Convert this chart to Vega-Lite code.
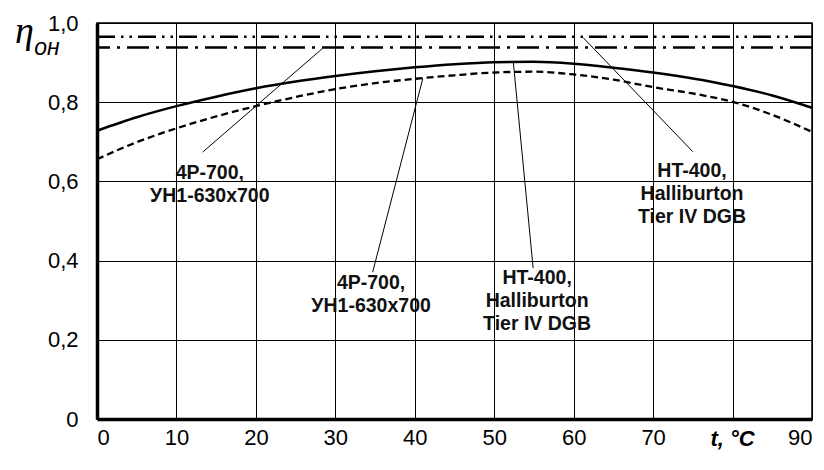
{
  "$schema": "https://vega.github.io/schema/vega-lite/v6.json",
  "width": 715,
  "height": 396,
  "autosize": {"type": "none"},
  "padding": {"left": 97, "top": 23, "right": 12, "bottom": 51},
  "background": "white",
  "config": {
    "view": {"stroke": "black", "strokeWidth": 1.5},
    "axis": {
      "grid": true, "gridColor": "black", "gridOpacity": 1, "gridWidth": 1,
      "domainColor": "black", "domainWidth": 3.5, "ticks": false,
      "labelFont": "Liberation Sans", "labelFontSize": 22, "labelColor": "black",
      "titleColor": "black"
    }
  },
  "datasets": {
    "curves": [
      {"t": 0, "eta": 0.728, "s": "solid"}, {"t": 5, "eta": 0.762, "s": "solid"},
      {"t": 10, "eta": 0.790, "s": "solid"}, {"t": 15, "eta": 0.814, "s": "solid"},
      {"t": 20, "eta": 0.835, "s": "solid"}, {"t": 25, "eta": 0.852, "s": "solid"},
      {"t": 30, "eta": 0.866, "s": "solid"}, {"t": 35, "eta": 0.878, "s": "solid"},
      {"t": 40, "eta": 0.888, "s": "solid"}, {"t": 45, "eta": 0.896, "s": "solid"},
      {"t": 50, "eta": 0.901, "s": "solid"}, {"t": 55, "eta": 0.902, "s": "solid"},
      {"t": 60, "eta": 0.897, "s": "solid"}, {"t": 65, "eta": 0.887, "s": "solid"},
      {"t": 70, "eta": 0.875, "s": "solid"}, {"t": 75, "eta": 0.860, "s": "solid"},
      {"t": 80, "eta": 0.841, "s": "solid"}, {"t": 85, "eta": 0.817, "s": "solid"},
      {"t": 90, "eta": 0.786, "s": "solid"},
      {"t": 0, "eta": 0.656, "s": "dashed"}, {"t": 5, "eta": 0.699, "s": "dashed"},
      {"t": 10, "eta": 0.734, "s": "dashed"}, {"t": 15, "eta": 0.764, "s": "dashed"},
      {"t": 20, "eta": 0.790, "s": "dashed"}, {"t": 25, "eta": 0.813, "s": "dashed"},
      {"t": 30, "eta": 0.833, "s": "dashed"}, {"t": 35, "eta": 0.848, "s": "dashed"},
      {"t": 40, "eta": 0.859, "s": "dashed"}, {"t": 45, "eta": 0.868, "s": "dashed"},
      {"t": 50, "eta": 0.875, "s": "dashed"}, {"t": 55, "eta": 0.877, "s": "dashed"},
      {"t": 60, "eta": 0.870, "s": "dashed"}, {"t": 65, "eta": 0.857, "s": "dashed"},
      {"t": 70, "eta": 0.838, "s": "dashed"}, {"t": 75, "eta": 0.822, "s": "dashed"},
      {"t": 80, "eta": 0.801, "s": "dashed"}, {"t": 85, "eta": 0.768, "s": "dashed"},
      {"t": 90, "eta": 0.725, "s": "dashed"}
    ],
    "levels": [
      {"eta": 0.965, "s": "dashdotdot"},
      {"eta": 0.938, "s": "dashdot"}
    ],
    "leaders": [
      {"id": 1, "t": 13.3, "eta": 0.674}, {"id": 1, "t": 28.4, "eta": 0.936},
      {"id": 2, "t": 34.7, "eta": 0.371}, {"id": 2, "t": 41.0, "eta": 0.859},
      {"id": 3, "t": 54.9, "eta": 0.381}, {"id": 3, "t": 52.4, "eta": 0.902},
      {"id": 4, "t": 75.0, "eta": 0.675}, {"id": 4, "t": 61.2, "eta": 0.963}
    ],
    "labels": [
      {"label": "4P-700,\nУН1-630x700", "t": 14.2, "eta": 0.622},
      {"label": "4P-700,\nУН1-630x700", "t": 34.5, "eta": 0.344},
      {"label": "HT-400,\nHalliburton\nTier IV DGB", "t": 55.4, "eta": 0.356},
      {"label": "HT-400,\nHalliburton\nTier IV DGB", "t": 74.9, "eta": 0.627}
    ]
  },
  "layer": [
    {
      "data": {"name": "curves"},
      "transform": [{"filter": "datum.s === 'solid'"}],
      "mark": {"type": "line", "color": "black", "strokeWidth": 2.5, "interpolate": "monotone"},
      "encoding": {
        "x": {
          "field": "t", "type": "quantitative",
          "scale": {"domain": [0, 90], "nice": false},
          "axis": {
            "values": [0, 10, 20, 30, 40, 50, 60, 70, 80, 90],
            "labelExpr": "datum.value == 80 ? '' : datum.label",
            "labelPadding": 8,
            "title": "t,  °C", "titleX": 635, "titleY": 19,
            "titleAlign": "center", "titleBaseline": "middle",
            "titleFont": "Liberation Sans", "titleFontSize": 22,
            "titleFontStyle": "italic", "titleFontWeight": "bold"
          }
        },
        "y": {
          "field": "eta", "type": "quantitative",
          "scale": {"domain": [0, 1], "nice": false},
          "axis": {
            "values": [0, 0.2, 0.4, 0.6, 0.8, 1],
            "labelExpr": "datum.value == 0 ? '0' : replace(format(datum.value, '.1f'), '.', ',')",
            "labelPadding": 19,
            "title": "η", "titleAngle": 0, "titleX": -73, "titleY": 19,
            "titleAlign": "center", "titleBaseline": "alphabetic",
            "titleFont": "Liberation Serif", "titleFontSize": 38,
            "titleFontStyle": "italic", "titleFontWeight": "normal"
          }
        }
      }
    },
    {
      "data": {"name": "curves"},
      "transform": [{"filter": "datum.s === 'dashed'"}],
      "mark": {"type": "line", "color": "black", "strokeWidth": 2.3, "strokeDash": [7, 4], "interpolate": "monotone"},
      "encoding": {
        "x": {"field": "t", "type": "quantitative"},
        "y": {"field": "eta", "type": "quantitative"}
      }
    },
    {
      "data": {"name": "levels"},
      "transform": [{"filter": "datum.s === 'dashdotdot'"}],
      "mark": {"type": "rule", "color": "black", "strokeWidth": 2.5, "strokeDash": [18, 6, 2.5, 6, 2.5, 6]},
      "encoding": {"y": {"field": "eta", "type": "quantitative"}}
    },
    {
      "data": {"name": "levels"},
      "transform": [{"filter": "datum.s === 'dashdot'"}],
      "mark": {"type": "rule", "color": "black", "strokeWidth": 2.5, "strokeDash": [22, 7, 3, 7]},
      "encoding": {"y": {"field": "eta", "type": "quantitative"}}
    },
    {
      "data": {"name": "leaders"},
      "mark": {"type": "line", "color": "black", "strokeWidth": 1},
      "encoding": {
        "x": {"field": "t", "type": "quantitative"},
        "y": {"field": "eta", "type": "quantitative"},
        "detail": {"field": "id"}
      }
    },
    {
      "data": {"name": "labels"},
      "mark": {
        "type": "text", "lineBreak": "\n", "align": "center", "baseline": "middle",
        "font": "Liberation Sans", "fontSize": 19.5, "fontWeight": "bold",
        "lineHeight": 23, "color": "#111111"
      },
      "encoding": {
        "x": {"field": "t", "type": "quantitative"},
        "y": {"field": "eta", "type": "quantitative"},
        "text": {"field": "label"}
      }
    },
    {
      "data": {"values": [{"sub": "он"}]},
      "mark": {
        "type": "text", "align": "center", "baseline": "alphabetic",
        "font": "Liberation Sans", "fontSize": 23, "fontStyle": "italic", "color": "black"
      },
      "encoding": {
        "x": {"datum": -6.3, "type": "quantitative"},
        "y": {"datum": 0.918, "type": "quantitative"},
        "text": {"field": "sub"}
      }
    }
  ]
}
